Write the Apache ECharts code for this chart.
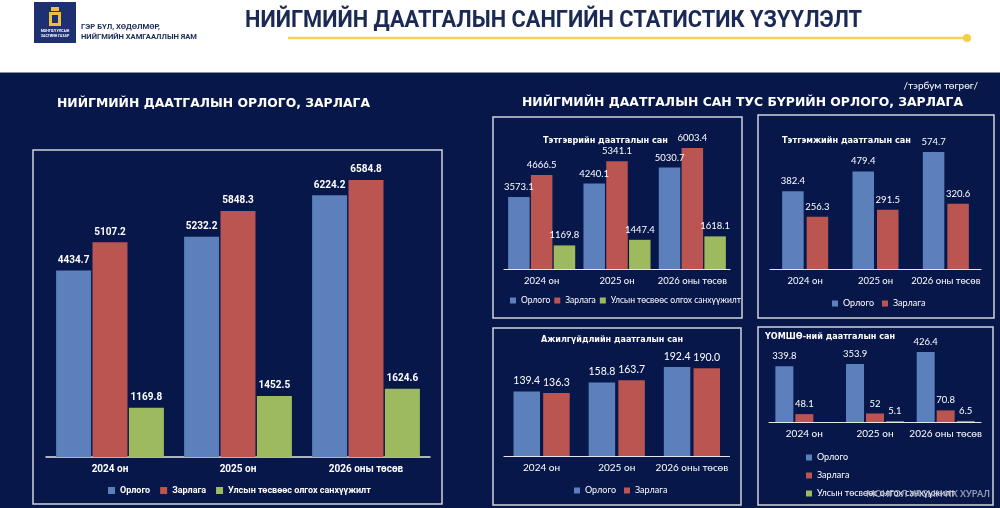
<!DOCTYPE html>
<html>
<head>
<meta charset="utf-8">
<script src="https://cdn.jsdelivr.net/npm/echarts@6/dist/echarts.min.js"></script>
<style>
  html, body { margin: 0; padding: 0; background: #fff; }
  #chart { width: 1000px; height: 508px; }
</style>
</head>
<body>
<div id="chart"></div>
<script>
// ангилал, цуврал
const years = ['2024 он', '2025 он', '2026 оны төсөв']
const seriesNames = ['Орлого', 'Зарлага', 'Улсын төсвөөс олгох санхүүжилт']

// нийт
const totalIncome = [4434.7, 5232.2, 6224.2]
const totalExpense = [5107.2, 5848.3, 6584.8]
const totalBudget = [1169.8, 1452.5, 1624.6]
// тэтгэврийн
const pensionIncome = [3573.1, 4240.1, 5030.7]
const pensionExpense = [4666.5, 5341.1, 6003.4]
const pensionBudget = [1169.8, 1447.4, 1618.1]
// тэтгэмжийн
const benefitIncome = [382.4, 479.4, 574.7]
const benefitExpense = [256.3, 291.5, 320.6]
// ажилгүйдлийн
const unempIncome = [139.4, 158.8, 192.4]
const unempExpense = [136.3, 163.7, 190.0]
// ҮОМШӨ
const injuryIncome = [339.8, 353.9, 426.4]
const injuryExpense = [48.1, 52, 70.8]
const injuryBudget = ['-', 5.1, 6.5]

const colorList = ['#5b80bb', '#bb5552', '#9dbb5e']
const navy = '#08174a'
const bold = 'Roboto, "Noto Sans", sans-serif'
const soft = 'Lato, "Noto Sans", sans-serif'
const wide = '"DejaVu Sans", Verdana, sans-serif'

// grid тохиргоо: [left, right, top, bottom, max]
const grids = [
  [46, 570, 162.5, 51, 7000],
  [504, 270, 127.9, 239, 7000],
  [770, 19, 126.5, 239, 700],
  [504, 270.5, 340.4, 52, 250],
  [769, 19, 340, 86, 500]
]

const chart = echarts.init(document.getElementById('chart'))

// текстийн өргөнийг хэмжих
const measureCtx = document.createElement('canvas').getContext('2d')
function textWidth (text, font) {
  measureCtx.font = font
  return measureCtx.measureText(text).width
}

function makeBar (idx, nameIdx, data, barWidth, barGap, labelFont, formatter) {
  return {
    name: seriesNames[nameIdx],
    type: 'bar',
    xAxisIndex: idx,
    yAxisIndex: idx,
    data: data,
    barWidth: barWidth,
    barGap: barGap,
    itemStyle: { color: colorList[nameIdx] },
    label: {
      show: true,
      position: 'top',
      distance: 5,
      color: '#fff',
      fontFamily: labelFont.family,
      fontWeight: labelFont.weight,
      fontSize: labelFont.size,
      formatter: formatter || (p => p.value)
    }
  }
}

const boldLabel = { family: bold, weight: 'bold', size: 10 }
const plainLabel = { family: soft, weight: 'normal', size: 9.5 }
const bigLabel = { family: soft, weight: 'normal', size: 10.5 }
const fixed1 = p => Number(p.value).toFixed(1)

const series = [
  makeBar(0, 0, totalIncome, 35, '4%', boldLabel),
  makeBar(0, 1, totalExpense, 35, '4%', boldLabel),
  makeBar(0, 2, totalBudget, 35, '4%', boldLabel),
  makeBar(1, 0, pensionIncome, 21.5, '6%', plainLabel),
  makeBar(1, 1, pensionExpense, 21.5, '6%', plainLabel),
  makeBar(1, 2, pensionBudget, 21.5, '6%', plainLabel),
  makeBar(2, 0, benefitIncome, 21.5, '14%', plainLabel),
  makeBar(2, 1, benefitExpense, 21.5, '14%', plainLabel),
  makeBar(3, 0, unempIncome, 26.5, '12%', bigLabel, fixed1),
  makeBar(3, 1, unempExpense, 26.5, '12%', bigLabel, fixed1),
  makeBar(4, 0, injuryIncome, 18, '11%', plainLabel),
  makeBar(4, 1, injuryExpense, 18, '11%', plainLabel),
  makeBar(4, 2, injuryBudget, 18, '11%', plainLabel)
]
// ҮОМШӨ-ний улсын төсвийн жижиг баганууд саарал харагддаг
series[12].itemStyle = { color: '#8a9488' }

const axisFonts = [
  { family: bold, weight: 'bold', size: 10 },
  { family: soft, weight: 'normal', size: 9.5 },
  { family: soft, weight: 'normal', size: 9.5 },
  { family: soft, weight: 'normal', size: 10 },
  { family: soft, weight: 'normal', size: 10 }
]

const xAxis = grids.map((g, i) => ({
  type: 'category',
  gridIndex: i,
  data: years,
  axisTick: { show: false },
  axisLine: { lineStyle: { color: '#e6e6e6', width: i === 0 ? 1.5 : 1.2 } },
  axisLabel: {
    interval: 0,
    color: '#fff',
    margin: 7,
    fontFamily: axisFonts[i].family,
    fontWeight: axisFonts[i].weight,
    fontSize: axisFonts[i].size
  }
}))

const yAxis = grids.map((g, i) => ({
  type: 'value',
  gridIndex: i,
  min: 0,
  max: g[4],
  show: false,
  splitLine: { show: false }
}))

const legendText = { color: '#fff', fontFamily: soft, fontSize: 9 }
const legend = [
  {
    data: seriesNames, left: 108, top: 486, itemWidth: 7, itemHeight: 7, itemGap: 10,
    icon: 'rect', selectedMode: false, padding: 0,
    textStyle: { color: '#fff', fontFamily: bold, fontWeight: 'bold', fontSize: 9 }
  },
  {
    data: seriesNames, left: 510, top: 296, itemWidth: 6, itemHeight: 6, itemGap: 4,
    icon: 'rect', selectedMode: false, padding: 0,
    textStyle: { color: '#fff', fontFamily: soft, fontSize: 8.5 }
  },
  {
    data: seriesNames.slice(0, 2), left: 832, top: 299, itemWidth: 6, itemHeight: 6, itemGap: 8,
    icon: 'rect', selectedMode: false, padding: 0, textStyle: legendText
  },
  {
    data: seriesNames.slice(0, 2), left: 574, top: 486, itemWidth: 6, itemHeight: 6, itemGap: 8,
    icon: 'rect', selectedMode: false, padding: 0, textStyle: legendText
  },
  {
    data: seriesNames, left: 806, top: 453, orient: 'vertical', itemWidth: 6, itemHeight: 6, itemGap: 9,
    icon: 'rect', selectedMode: false, padding: 0, textStyle: legendText
  }
]

// өгөгдсөн өргөнд багтаах текст
function txt (text, x, y, font, fill, align, fitWidth, extra) {
  const sx = fitWidth ? fitWidth / textWidth(text, font) : 1
  return Object.assign({
    type: 'text',
    x: x,
    y: y,
    scaleX: sx,
    style: { text: text, x: 0, y: 0, font: font, fill: fill || '#fff', align: align || 'left', verticalAlign: 'middle' }
  }, extra || {})
}

function box (x1, y1, x2, y2) {
  return {
    type: 'rect',
    shape: { x: x1, y: y1, width: x2 - x1, height: y2 - y1 },
    style: { fill: 'none', stroke: '#cfd2da', lineWidth: 1.5 }
  }
}

const graphic = [
  // цагаан толгой хэсэг
  { type: 'rect', shape: { x: 0, y: 0, width: 1000, height: 72 }, style: { fill: '#fff' } },
  { type: 'line', shape: { x1: 0, y1: 72.5, x2: 1000, y2: 72.5 }, style: { stroke: '#8a90a3', lineWidth: 1 } },
  // лого
  { type: 'rect', shape: { x: 34, y: 2, width: 42, height: 41 }, style: { fill: '#1f3072' } },
  { type: 'rect', shape: { x: 51, y: 7, width: 8, height: 4 }, style: { fill: '#e9c23b' } },
  { type: 'rect', shape: { x: 49, y: 12, width: 12, height: 14 }, style: { fill: '#e9c23b' } },
  { type: 'rect', shape: { x: 52, y: 15, width: 6, height: 8 }, style: { fill: '#1f3072' } },
  txt('МОНГОЛ УЛСЫН', 55, 31, 'bold 3.6px ' + bold, '#fff', 'center'),
  txt('ЗАСГИЙН ГАЗАР', 55, 36, 'bold 3.6px ' + bold, '#fff', 'center'),
  txt('ГЭР БҮЛ, ХӨДӨЛМӨР,', 81, 27, 'bold 8px ' + bold, '#1b2a55', 'left', 79),
  txt('НИЙГМИЙН ХАМГААЛЛЫН ЯАМ', 81, 37, 'bold 8px ' + bold, '#1b2a55', 'left', 116),
  txt('НИЙГМИЙН ДААТГАЛЫН САНГИЙН СТАТИСТИК ҮЗҮҮЛЭЛТ', 245, 21, 'bold 24px ' + bold, '#1b2a55', 'left', 617),
  { type: 'line', shape: { x1: 288, y1: 38, x2: 966, y2: 38 }, style: { stroke: '#f2d45a', lineWidth: 2.5 } },
  { type: 'circle', shape: { cx: 967, cy: 38, r: 4 }, style: { fill: '#f2cf45' } },
  // гарчиг
  txt('НИЙГМИЙН ДААТГАЛЫН ОРЛОГО, ЗАРЛАГА', 57, 104, 'bold 12.5px ' + wide, '#fff', 'left', 313),
  txt('/тэрбум төгрөг/', 978, 86, '10px ' + soft, '#fff', 'right'),
  txt('НИЙГМИЙН ДААТГАЛЫН САН ТУС БҮРИЙН ОРЛОГО, ЗАРЛАГА', 522, 103, 'bold 12.5px ' + wide, '#fff', 'left', 441),
  txt('Тэтгэврийн даатгалын сан', 543, 141, 'bold 8.5px ' + wide, '#fff', 'left', 125),
  txt('Тэтгэмжийн даатгалын сан', 782, 141, 'bold 8.5px ' + wide, '#fff', 'left', 129),
  txt('Ажилгүйдлийн даатгалын сан', 541, 340, 'bold 8.5px ' + wide, '#fff', 'left', 142),
  txt('ҮОМШӨ-ний даатгалын сан', 765, 337, 'bold 8.5px ' + wide, '#fff', 'left', 130),
  // хүрээ
  box(33, 150, 442, 504),
  box(493, 117, 742, 318),
  box(758, 115, 994, 318),
  box(493, 328, 741, 505),
  box(758, 327, 993, 505),
  // усан тэмдэг
  txt('МОНГОЛ УЛСЫН ИХ ХУРАЛ', 990, 494, 'bold 9px ' + soft, 'rgba(190,195,210,0.75)', 'right', 0, { z: 100 })
]

chart.setOption({
  backgroundColor: navy,
  animation: false,
  grid: grids.map(g => ({ left: g[0], right: g[1], top: g[2], bottom: g[3] })),
  xAxis: xAxis,
  yAxis: yAxis,
  legend: legend,
  graphic: graphic,
  series: series
})
</script>
</body>
</html>
